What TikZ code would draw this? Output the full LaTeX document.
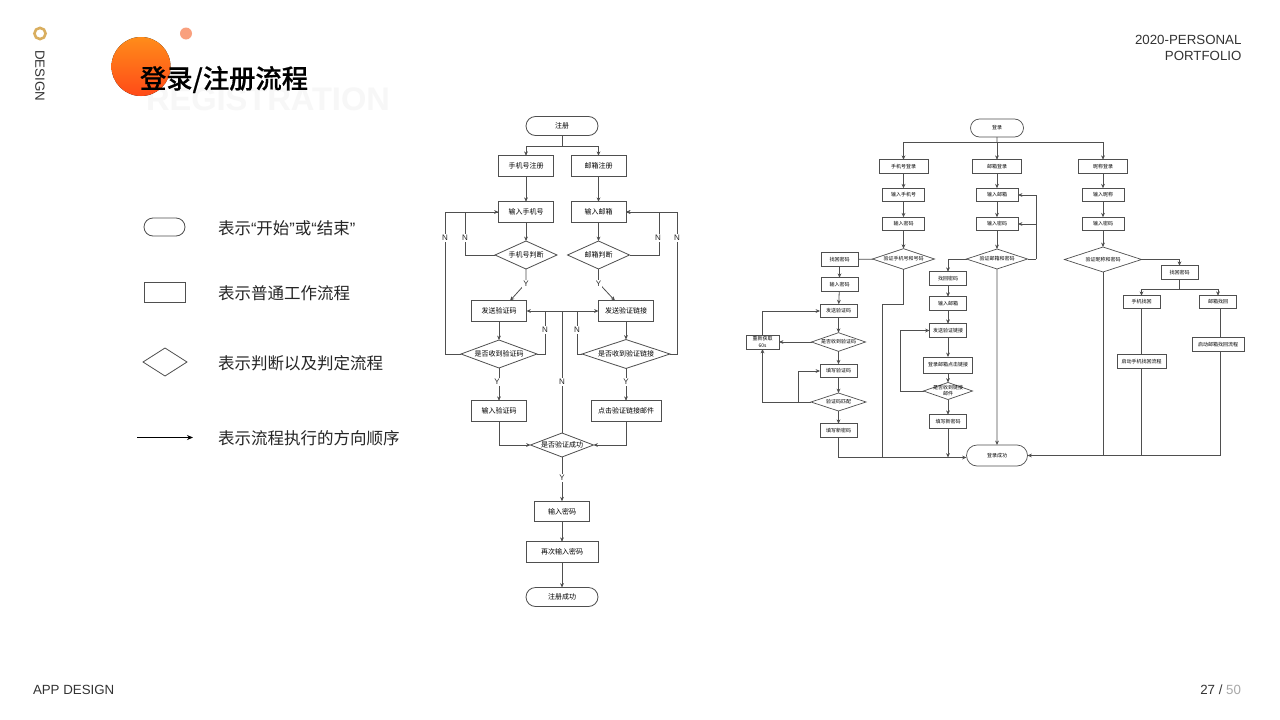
\documentclass[tikz,border=0pt]{standalone}
\usepackage{fontspec}
\setmainfont{Liberation Sans}
\newfontfamily\cjk{Noto Sans CJK SC}
\newfontfamily\cjkmed[FakeBold=0.5]{Noto Sans CJK SC Medium}
\usetikzlibrary{arrows.meta,shapes.geometric,shapes.misc}
\definecolor{flowgray}{HTML}{4F4F4F}
\definecolor{ringtan}{HTML}{D9AE5F}
\definecolor{dotpeach}{HTML}{F9A07E}
\definecolor{ballup}{HTML}{FF8C1A}
\definecolor{balldown}{HTML}{FF4A18}
\definecolor{ghostgray}{HTML}{F7F7F7}
\definecolor{pagegray}{HTML}{A8A8A8}
\newcommand{\openq}{{\rmfamily “}}
\newcommand{\closeq}{{\rmfamily ”}}
\tikzset{
  rbox/.style={rectangle,draw=flowgray,fill=white,line width=.8pt,minimum width=55,minimum height=20.5,font=\cjk\fontsize{7}{8}\selectfont},
  rend/.style={rounded rectangle,draw=flowgray,fill=white,line width=.8pt,minimum width=72,minimum height=19,font=\cjk\fontsize{7}{8}\selectfont},
  rchk/.style={diamond,aspect=2.5,draw=flowgray,fill=white,line width=.8pt,font=\cjk\fontsize{7}{8}\selectfont},
  lbox/.style={rectangle,draw=flowgray,fill=white,line width=.7pt,minimum width=37,minimum height=13.5,font=\cjk\fontsize{5}{7}\selectfont,align=center},
  lchk/.style={diamond,aspect=2.5,draw=flowgray,fill=white,line width=.7pt,font=\cjk\fontsize{5}{7}\selectfont},
  line/.style={draw=flowgray,line width=.8pt},
  flow/.style={line,-{Stealth[length=4.4pt,width=3.8pt]}},
  yn/.style={fill=white,inner xsep=1pt,inner ysep=1.5pt,font=\fontsize{8}{9}\selectfont,text=black!85},
  legend/.style={anchor=west,font=\cjk\fontsize{16.5}{18}\selectfont,text=black!85},
  corner/.style={font=\fontsize{13.3}{15}\selectfont,text=black!80}
}
\begin{document}
\begin{tikzpicture}
  [x=1pt,y=-1pt,every node/.style={inner sep=0pt,outer sep=0pt}]
  \useasboundingbox[fill=white] (0,0) rectangle (1280,720);

  % page furniture
  \draw[ringtan,line width=2.6pt] (40,33.5) circle (5.6);
  \node[corner,rotate=-90] (side) at (40,75.5) {DESIGN};
  \node[anchor=west,font=\bfseries\fontsize{32.6}{34}\selectfont,text=ghostgray] (ghost) at (146,99) {REGISTRATION};
  \fill[top color=ballup,bottom color=balldown] (141,66.5) circle (29.5);
  \fill[dotpeach] (186,33.5) circle (6);
  \node[anchor=west,font=\cjkmed\fontsize{26.3}{28}\selectfont] (title) at (140,79.5) {登录/注册流程};
  \node[corner,anchor=east] (top1) at (1241.5,39.5) {2020-PERSONAL};
  \node[corner,anchor=east] (top2) at (1241.5,55.5) {PORTFOLIO};
  \node[corner,anchor=west] (foot) at (33,689.5) {APP DESIGN};
  \node[corner,anchor=east] (page) at (1241,689.5) {27 / {\color{pagegray}50}};

  % legend
  \node[rend,minimum width=41,minimum height=18] (k1) at (164.5,227) {};
  \node[rbox,minimum width=41,minimum height=20] (k2) at (164.5,292) {};
  \node[rchk,minimum width=44,minimum height=28] (k3) at (165,362) {};
  \coordinate (k4) at (137,437.5);
  \coordinate (k5) at (193,437.5);
  \draw[black,line width=1.1pt,-{Stealth[length=6pt,width=5pt]}] (k4) -- (k5);
  \node[legend] (t1) at (218,228) {表示\openq 开始\closeq 或\openq 结束\closeq};
  \node[legend] (t2) at (218,293) {表示普通工作流程};
  \node[legend] (t3) at (218,363) {表示判断以及判定流程};
  \node[legend] (t4) at (218,438) {表示流程执行的方向顺序};

  % register
  \node[rend] (r1) at (562,126) {注册};
  \node[rbox] (r2) at (526,166) {手机号注册};
  \node[rbox] (r3) at (598.5,166) {邮箱注册};
  \node[rbox] (r4) at (526,212) {输入手机号};
  \node[rbox] (r5) at (598.5,212) {输入邮箱};
  \node[rchk,minimum width=62,minimum height=28] (r6) at (526,255) {手机号判断};
  \node[rchk,minimum width=62,minimum height=28] (r7) at (598.5,255) {邮箱判断};
  \node[rbox] (r8) at (499,311) {发送验证码};
  \node[rbox] (r9) at (626,311) {发送验证链接};
  \node[rchk,minimum width=76,minimum height=28] (r10) at (499,354) {是否收到验证码};
  \node[rchk,minimum width=88,minimum height=27] (r11) at (626,354) {是否收到验证链接};
  \node[rbox] (r12) at (499,411) {输入验证码};
  \node[rbox,minimum width=70] (r13) at (626,411) {点击验证链接邮件};
  \node[rchk,minimum width=63,minimum height=24] (r14) at (562,445) {是否验证成功};
  \node[rbox] (r15) at (562,511.5) {输入密码};
  \node[rbox,minimum width=72] (r16) at (562,552) {再次输入密码};
  \node[rend] (r17) at (562,597) {注册成功};

  \coordinate (rs) at (562,146);
  \coordinate (rt) at (562,311);
  \coordinate (ra) at (526,283);
  \coordinate (rb) at (598.5,283);
  \draw[line] (r1) -- (rs);
  \draw[flow] (rs) -| (r2);
  \draw[flow] (rs) -| (r3);
  \foreach \from/\to in {r2/r4,r3/r5,r4/r6,r5/r7,r8/r10,r9/r11,r10/r12,r11/r13,r14/r15,r15/r16,r16/r17}
    \draw[flow] (\from) -- (\to);
  \draw[flow] (r6) -- (ra) -- ([xshift=11pt]r8.north);
  \draw[flow] (r7) -- (rb) -- ([xshift=-11pt]r9.north);
  \draw[line] (r6.west) -- ++(-30,0) |- (r4.west);
  \draw[flow] (r10.west) -- ++(-16,0) |- (r4.west);
  \draw[flow] (r7.east) -- ++(30,0) |- (r5.east);
  \draw[flow] (r11.east) -- ++(7,0) |- (r5.east);
  \draw[line] (r14) -- (rt);
  \draw[flow] (rt) -- (r8);
  \draw[flow] (rt) -- (r9);
  \draw[line] (r10.east) -- ++(8,0) |- (rt);
  \draw[line] (r11.west) -- ++(-5,0) |- (rt);
  \draw[flow] (r12) |- (r14);
  \draw[flow] (r13) |- (r14);
  \foreach \i/\x/\y/\t in {1/445/238/N,2/465/238/N,3/658/238/N,4/677/238/N,5/526/284/Y,6/598.5/284/Y,
  7/545/330/N,8/577/330/N,9/562/382/N,10/497/382/Y,11/626/382/Y,12/562/478/Y}
    \node[yn] (yn\i) at (\x,\y) {\t};

  % login
  \node[lbox,rounded rectangle,minimum width=53,minimum height=18] (l1) at (997,128) {登录};
  \node[lbox,minimum width=49] (l2) at (903.5,166.5) {手机号登录};
  \node[lbox,minimum width=49] (l3) at (997,166.5) {邮箱登录};
  \node[lbox,minimum width=49] (l4) at (1103,166.5) {昵称登录};
  \node[lbox,minimum width=42] (l5) at (903.5,195) {输入手机号};
  \node[lbox,minimum width=42] (l6) at (997,195) {输入邮箱};
  \node[lbox,minimum width=42] (l7) at (1103,195) {输入昵称};
  \node[lbox,minimum width=42] (l8) at (903.5,224) {输入密码};
  \node[lbox,minimum width=42] (l9) at (997,224) {输入密码};
  \node[lbox,minimum width=42] (l10) at (1103,224) {输入密码};
  \node[lchk,minimum width=62,minimum height=20] (l11) at (903.5,259) {验证手机号和号码};
  \node[lchk,minimum width=61,minimum height=20] (l12) at (997,259) {验证邮箱和密码};
  \node[lchk,minimum width=77,minimum height=25] (l13) at (1103,259.5) {验证昵称和密码};

  \node[lbox] (l14) at (839.5,259.5) {找回密码};
  \node[lbox] (l15) at (839.5,284.5) {输入密码};
  \node[lbox] (l16) at (838.5,311) {发送验证码};
  \node[lchk,minimum width=54,minimum height=18] (l17) at (838.5,342) {是否收到验证码};
  \node[lbox,minimum width=33,minimum height=14] (l18) at (762.5,342) {重新获取\\60s};
  \node[lbox] (l19) at (838.5,371) {填写验证码};
  \node[lchk,minimum width=55,minimum height=18] (l20) at (838.5,402) {验证码匹配};
  \node[lbox] (l21) at (838.5,430.5) {填写新密码};

  \node[lbox] (l22) at (948,278.5) {找回密码};
  \node[lbox] (l23) at (948,303.5) {输入邮箱};
  \node[lbox] (l24) at (948,330.5) {发送验证链接};
  \node[lbox,minimum width=49,minimum height=16] (l25) at (948,365) {登录邮箱点击链接};
  \node[lchk,minimum width=49,minimum height=17] (l26) at (948,391) {};
  \node[font=\cjk\fontsize{5}{6}\selectfont,align=center] (l26t) at (948,391) {是否收到链接\\邮件};
  \node[lbox] (l27) at (948,421.5) {填写新密码};

  \node[lbox] (l28) at (1179.5,272.5) {找回密码};
  \node[lbox,minimum height=12.5] (l29) at (1141.5,302) {手机找回};
  \node[lbox,minimum height=12.5] (l30) at (1218,302) {邮箱找回};
  \node[lbox,minimum width=49] (l31) at (1141.5,361.5) {启动手机找回流程};
  \node[lbox,minimum width=52] (l32) at (1218,344.5) {启动邮箱找回流程};
  \node[lbox,rounded rectangle,minimum width=61,minimum height=21] (l33) at (997,455.5) {登录成功};

  \coordinate (ls) at (997,142.5);
  \coordinate (lt) at (1179.5,289.5);
  \coordinate (lc) at (882,304);
  \coordinate (ld) at (882,457.5);
  \coordinate (le) at (1036,259);
  \coordinate (lf) at (798,402);
  \coordinate (lg) at (948,457.5);
  \coordinate (lh) at (1141.5,455.5);
  \coordinate (li) at (1103,455.5);
  \draw[line] (l1) -- (ls);
  \foreach \to in {l2,l4}
    \draw[flow] (ls) -| (\to);
  \foreach \from/\to in {ls/l3,l2/l5,l3/l6,l4/l7,l5/l8,l6/l9,l7/l10,l8/l11,l9/l12,l10/l13,
  l14/l15,l15/l16,l16/l17,l17/l19,l19/l20,l20/l21,l17/l18,
  l22/l23,l23/l24,l24/l25,l25/l26,l26/l27,l12/l33,l27/lg}
    \draw[flow] (\from) -- (\to);
  \draw[line] (l11) -- (l14);
  \draw[flow] (l18) |- (l16);
  \draw[flow] (l20) -| (l18);
  \draw[flow] (lf) |- (l19);
  \draw[flow] (l21) |- ([yshift=-2pt]l33.west);
  \draw[line] (l11) |- (lc) -- (ld);
  \draw[flow] (l12) -| (l22);
  \draw[line] (l12) -- (le);
  \draw[flow] (le) |- (l6);
  \draw[flow] (le) |- (l9);
  \draw[flow] (l26.west) -- ++(-23,0) |- (l24.west);
  \draw[flow] (l13) -| (l28);
  \draw[line] (l28) -- (lt);
  \draw[flow] (lt) -| (l29);
  \draw[flow] (lt) -| (l30);
  \draw[line] (l29) -- (l31);
  \draw[line] (l31) -- (lh);
  \draw[line] ([xshift=2pt]l30.south) -- ([xshift=2pt]l32.north);
  \draw[flow] ([xshift=2pt]l32.south) |- (l33.east);
  \draw[line] (l13) -- (li);
\end{tikzpicture}
\end{document}
